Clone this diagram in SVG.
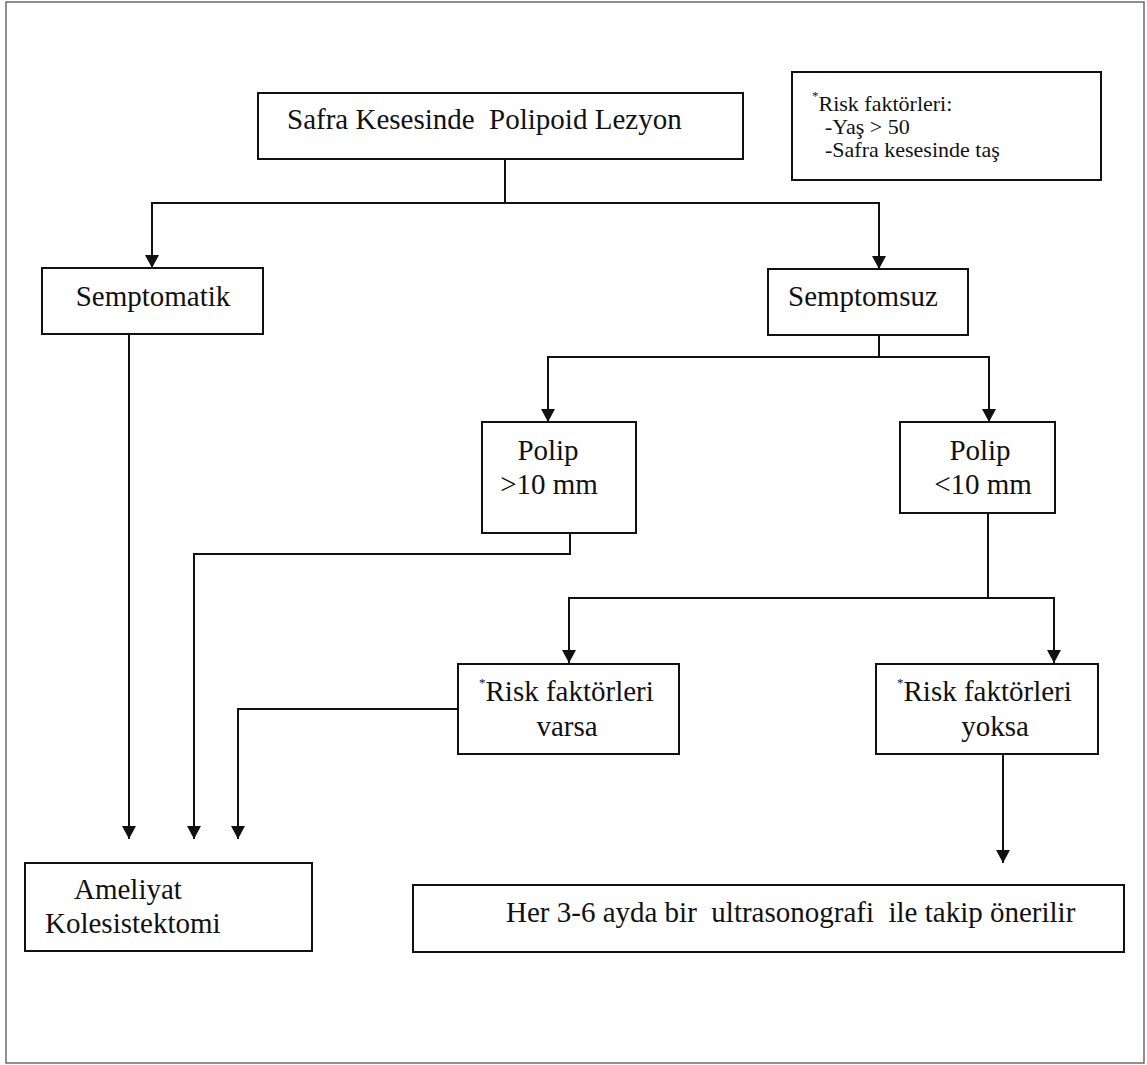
<svg xmlns="http://www.w3.org/2000/svg" width="1147" height="1065" viewBox="0 0 1147 1065">
<defs>
<style>
.box{fill:#fff;stroke:#111;stroke-width:2}
.t{font-family:"Liberation Serif","Times New Roman",serif;font-size:29px;fill:#111;white-space:pre}
.s{font-family:"Liberation Serif","Times New Roman",serif;font-size:22px;fill:#111;white-space:pre}
.ast{font-size:13px}
.c{fill:none;stroke:#111;stroke-width:2}
</style>
<marker id="arr" markerUnits="userSpaceOnUse" markerWidth="14" markerHeight="14" refX="13" refY="7" orient="auto">
<path d="M0,0 L13,7 L0,14 z" fill="#111"/>
</marker>
</defs>
<rect x="0" y="0" width="1147" height="1065" fill="#fff"/>
<rect x="6" y="2" width="1138" height="1061" fill="none" stroke="#555" stroke-width="1.3"/>

<g id="connectors">
<path class="c" d="M505,159 V203 H152 V268" marker-end="url(#arr)"/>
<path class="c" d="M505,203 H879 V269" marker-end="url(#arr)"/>
<path class="c" d="M129,334 V839" marker-end="url(#arr)"/>
<path class="c" d="M879,335 V357 H548 V422" marker-end="url(#arr)"/>
<path class="c" d="M879,357 H989 V422" marker-end="url(#arr)"/>
<path class="c" d="M570,533 V554 H194 V839" marker-end="url(#arr)"/>
<path class="c" d="M988,513 V598 H569 V663" marker-end="url(#arr)"/>
<path class="c" d="M988,598 H1054 V663" marker-end="url(#arr)"/>
<path class="c" d="M458,709 H238 V839" marker-end="url(#arr)"/>
<path class="c" d="M1003,754 V863" marker-end="url(#arr)"/>
</g>

<g id="root">
<rect class="box" x="258" y="93" width="485" height="66"/>
<text class="t" x="287" y="129">Safra Kesesinde  Polipoid Lezyon</text>
</g>

<g id="riskNote">
<rect class="box" x="792" y="72" width="309" height="108"/>
<text class="s" x="812" y="111"><tspan class="ast" dy="-11">*</tspan><tspan dy="11">Risk faktörleri:</tspan></text>
<text class="s" x="825" y="134">-Yaş &gt; 50</text>
<text class="s" x="825" y="157">-Safra kesesinde taş</text>
</g>

<g id="semptomatik">
<rect class="box" x="42" y="268" width="221" height="66"/>
<text class="t" x="153" y="306" text-anchor="middle">Semptomatik</text>
</g>

<g id="semptomsuz">
<rect class="box" x="768" y="269" width="200" height="66"/>
<text class="t" x="788" y="306">Semptomsuz</text>
</g>

<g id="polipBig">
<rect class="box" x="482" y="422" width="154" height="111"/>
<text class="t" x="548" y="460" text-anchor="middle">Polip</text>
<text class="t" x="549" y="494" text-anchor="middle">&gt;10 mm</text>
</g>

<g id="polipSmall">
<rect class="box" x="900" y="422" width="155" height="91"/>
<text class="t" x="980" y="460" text-anchor="middle">Polip</text>
<text class="t" x="983" y="494" text-anchor="middle">&lt;10 mm</text>
</g>

<g id="riskVarsa">
<rect class="box" x="458" y="664" width="221" height="90"/>
<text class="t" x="479" y="701"><tspan class="ast" dy="-14">*</tspan><tspan dy="14">Risk faktörleri</tspan></text>
<text class="t" x="567" y="736" text-anchor="middle">varsa</text>
</g>

<g id="riskYoksa">
<rect class="box" x="876" y="664" width="222" height="90"/>
<text class="t" x="897" y="701"><tspan class="ast" dy="-14">*</tspan><tspan dy="14">Risk faktörleri</tspan></text>
<text class="t" x="995" y="736" text-anchor="middle">yoksa</text>
</g>

<g id="ameliyat">
<rect class="box" x="25" y="863" width="287" height="88"/>
<text class="t" x="74" y="899">Ameliyat</text>
<text class="t" x="45" y="933">Kolesistektomi</text>
</g>

<g id="takip">
<rect class="box" x="413" y="885" width="711" height="67"/>
<text class="t" x="506" y="922">Her 3-6 ayda bir  ultrasonografi  ile takip önerilir</text>
</g>
</svg>
